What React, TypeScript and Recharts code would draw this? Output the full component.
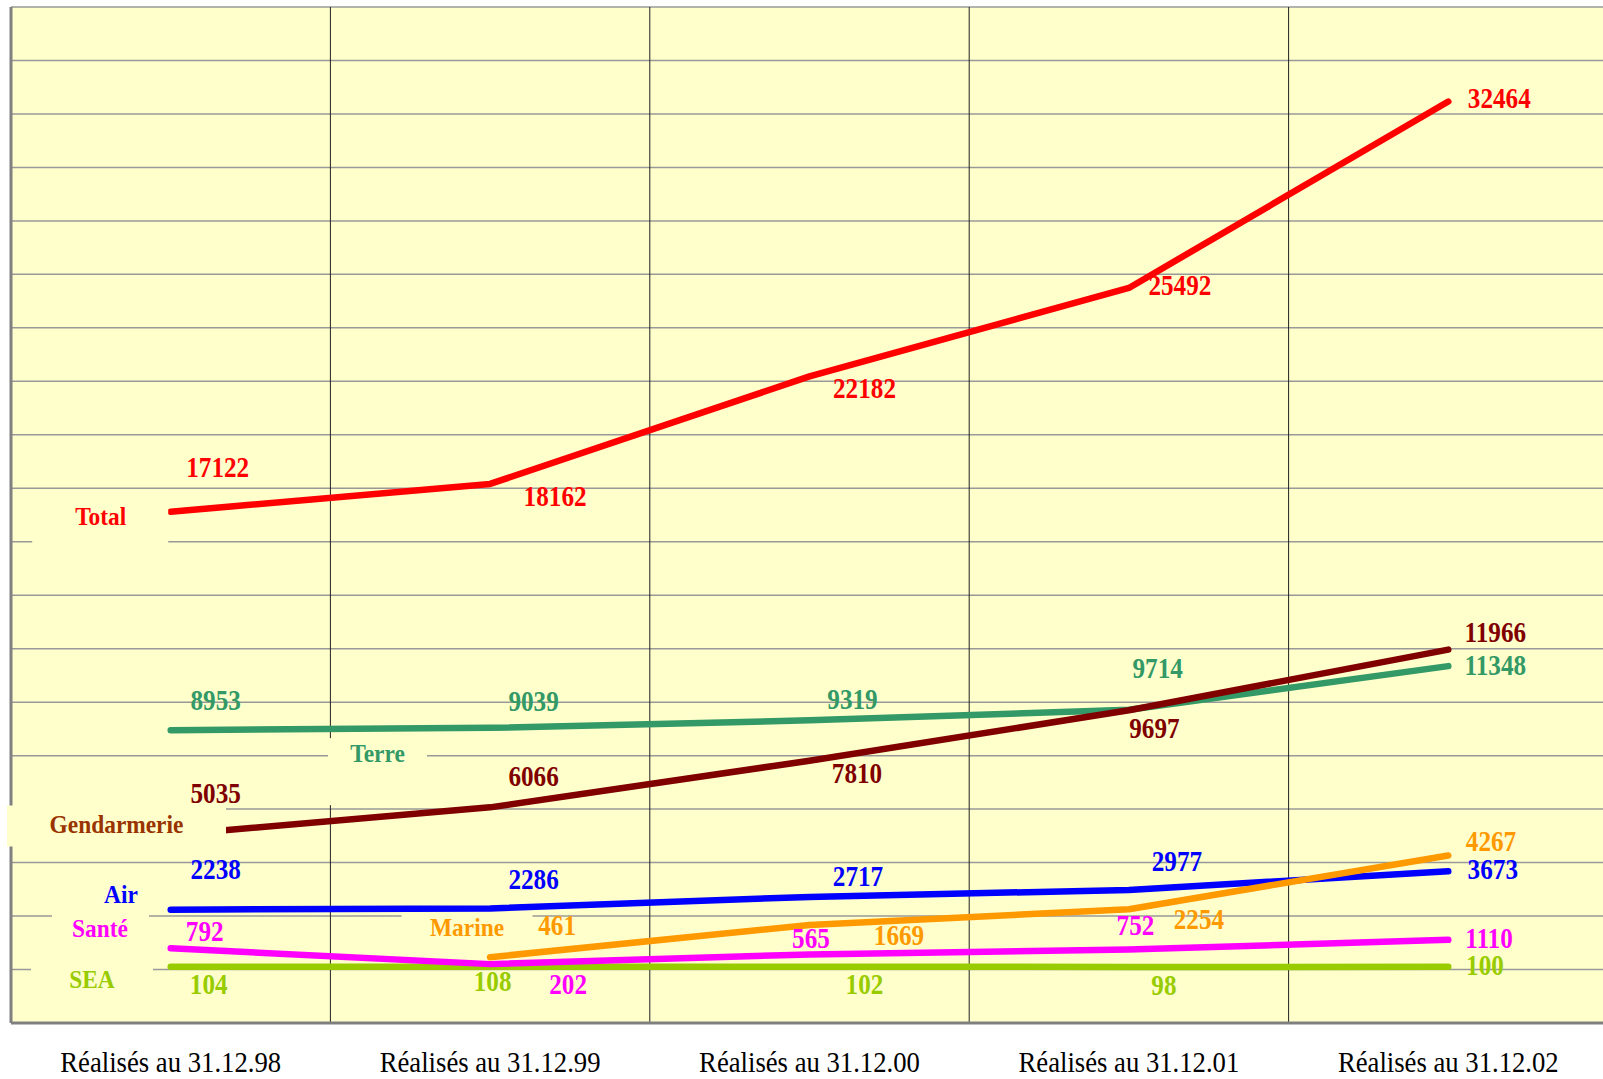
import { LineChart, Line, XAxis, YAxis, CartesianGrid } from "recharts";

const categories = [
  "Réalisés au 31.12.98",
  "Réalisés au 31.12.99",
  "Réalisés au 31.12.00",
  "Réalisés au 31.12.01",
  "Réalisés au 31.12.02",
];
const total = [17122, 18162, 22182, 25492, 32464];
const terre = [8953, 9039, 9319, 9714, 11348];
const gendarmerie = [5035, 6066, 7810, 9697, 11966];
const air = [2238, 2286, 2717, 2977, 3673];
const marine = [null, 461, 1669, 2254, 4267];
const sante = [792, 202, 565, 752, 1110];
const sea = [104, 108, 102, 98, 100];
const Y_MIN = -2000;
const Y_MAX = 36000;
const yTicks = Array.from({ length: 20 }, (_, i) => Y_MIN + i * 2000);

const CHART_W = 1608;
const CHART_H = 1079;
const TOP = 7;
const LEFT = 10;
const AXIS_H = 56;
const PLOT_W = CHART_W - LEFT - 1;
const PLOT_BOTTOM = CHART_H - AXIS_H;
const BG = "#FFFFCC";
const SERIF = "'Liberation Serif', 'Times New Roman', serif";

// label placement relative to each point, name tag placement relative to its anchor point
const series = [
  {
    key: "sea", name: "SEA", values: sea, color: "#99CC00", nameColor: "#99CC00",
    offsets: [[38, 17], [2.5, 14], [55, 17], [35, 18], [36.7, -1.8]],
    nameAt: 0, nameOffset: [-78.7, 12.1], box: [-61, -20, 122, 38],
  },
  {
    key: "sante", name: "Santé", values: sante, color: "#FF00FF", nameColor: "#FF00FF",
    offsets: [[34, -18], [78, 19.5], [1.5, -16.6], [6.6, -24.4], [40.7, -1.8]],
    nameAt: 0, nameOffset: [-70.7, -20.3], box: [-48, -20, 97, 34],
  },
  {
    key: "air", name: "Air", values: air, color: "#0000FF", nameColor: "#0000FF",
    offsets: [[45, -41], [43.5, -30], [48.5, -21], [48, -29], [44.5, -2.3]],
    nameAt: 0, nameOffset: [-49.7, -15.7], box: null,
  },
  {
    key: "marine", name: "Marine", values: marine, color: "#FF9900", nameColor: "#FF9900",
    offsets: [[0, 0], [67, -32], [89.5, 10], [70, 9.6], [42.7, -14.7]],
    nameAt: 1, nameOffset: [-23.1, -29.7], box: [-65.5, -14, 131, 34.5],
  },
  {
    key: "terre", name: "Terre", values: terre, color: "#339966", nameColor: "#339966",
    offsets: [[45, -30], [43.5, -27.5], [43, -22], [28.8, -42.5], [47, -1.6]],
    nameAt: 0, nameOffset: [206.8, 23], box: [-49.5, -15, 99, 67],
  },
  {
    key: "gendarmerie", name: "Gendarmerie", values: gendarmerie, color: "#800000", nameColor: "#993300",
    offsets: [[45, -42], [43.5, -31.5], [47.5, 12.5], [25.5, 17], [47, -18]],
    nameAt: 0, nameOffset: [-54.2, -10.9], box: [-109.5, -18.5, 219, 41],
  },
  {
    key: "total", name: "Total", values: total, color: "#FF0000", nameColor: "#FF0000",
    offsets: [[47, -45.5], [65, 12], [55, 11], [51, -3], [51, -3.5]],
    nameAt: 0, nameOffset: [-70, 4.3], box: [-68.5, -26, 136, 56],
  },
];

const data = categories.map((cat, i) => {
  const row: Record<string, any> = { cat };
  series.forEach((s) => {
    row[s.key] = s.values[i];
  });
  return row;
});

function makeDot(s: any) {
  return (props: any) => {
    const { cx, cy, index, payload } = props;
    const value = payload ? payload[s.key] : props.value;
    if (value == null || cx == null || cy == null || isNaN(cy)) return <g key={`${s.key}-${index}`} />;
    const [dx, dy] = s.offsets[index];
    const nx = cx + s.nameOffset[0];
    const ny = cy + s.nameOffset[1];
    return (
      <g key={`${s.key}-${index}`}>
        {index === s.nameAt && (
          <g>
            {s.box && (
              <rect x={nx + s.box[0]} y={ny + s.box[1]} width={s.box[2]} height={s.box[3]} fill={BG} />
            )}
            <text
              transform={`translate(${nx} ${ny}) scale(0.9 1)`}
              textAnchor="middle"
              dominantBaseline="central"
              fontFamily={SERIF}
              fontWeight="bold"
              fontSize={26}
              fill={s.nameColor}
            >
              {s.name}
            </text>
          </g>
        )}
        <text
          transform={`translate(${cx + dx} ${cy + dy}) scale(0.84 1)`}
          textAnchor="middle"
          dominantBaseline="central"
          fontFamily={SERIF}
          fontWeight="bold"
          fontSize={30}
          fill={s.color}
        >
          {value}
        </text>
      </g>
    );
  };
}

const CategoryTick = (props: any) => (
  <text
    transform={`translate(${props.x} ${PLOT_BOTTOM + 49}) scale(0.89 1)`}
    textAnchor="middle"
    fontFamily={SERIF}
    fontSize={30}
    fill="#000"
  >
    {props.payload.value}
  </text>
);

export default function App() {
  return (
    <div style={{ position: "absolute", left: 0, top: 0, width: 1603, height: 1079, overflow: "hidden", background: "#fff" }}>
      <LineChart
        width={CHART_W}
        height={CHART_H}
        data={data}
        margin={{ top: TOP, left: LEFT, right: 0, bottom: 0 }}
      >
        <CartesianGrid
          vertical={false}
          fill={BG}
          stroke="#999999"
          strokeWidth={1.5}
          horizontalCoordinatesGenerator={({ offset }: any) =>
            yTicks.map((t) => offset.top + (offset.height * (Y_MAX - t)) / (Y_MAX - Y_MIN))
          }
        />
        <CartesianGrid
          horizontal={false}
          stroke="#222222"
          strokeWidth={1}
          verticalCoordinatesGenerator={({ offset }: any) =>
            [1, 2, 3, 4].map((i) => offset.left + (offset.width * i) / 5)
          }
        />
        <XAxis
          dataKey="cat"
          height={AXIS_H}
          padding={{ left: PLOT_W / 10, right: PLOT_W / 10 }}
          axisLine={{ stroke: "#808080", strokeWidth: 3 }}
          tickLine={false}
          tick={<CategoryTick />}
          interval={0}
        />
        <XAxis
          xAxisId="top"
          dataKey="cat"
          orientation="top"
          height={0}
          axisLine={{ stroke: "#808080", strokeWidth: 3 }}
          tickLine={false}
          tick={false}
        />
        <YAxis
          width={1}
          domain={[Y_MIN, Y_MAX]}
          ticks={yTicks}
          allowDataOverflow
          axisLine={{ stroke: "#808080", strokeWidth: 3 }}
          tickLine={false}
          tick={false}
        />
        {series.map((s) => (
          <Line
            key={s.key}
            dataKey={s.key}
            type="linear"
            stroke={s.color}
            strokeWidth={6.5}
            strokeLinecap="round"
            strokeLinejoin="round"
            dot={makeDot(s)}
            activeDot={false}
            isAnimationActive={false}
          />
        ))}
      </LineChart>
    </div>
  );
}
